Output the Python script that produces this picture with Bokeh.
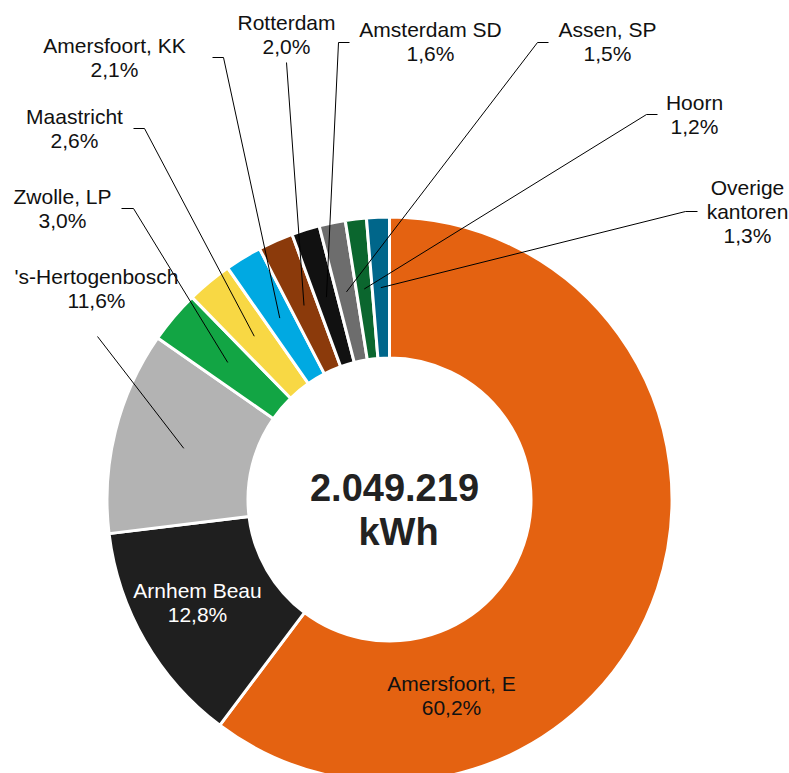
import numpy as np
from bokeh.plotting import figure
from bokeh.models import Range1d, ColumnDataSource
from bokeh.core.properties import value
from bokeh.embed import file_html
from bokeh.resources import INLINE

# ---------------- data ----------------
names = ["Amersfoort, E", "Arnhem Beau", "'s-Hertogenbosch", "Zwolle, LP", "Maastricht",
         "Amersfoort, KK", "Rotterdam", "Amsterdam SD", "Assen, SP", "Hoorn", "Overige\nkantoren"]
shares = [60.2, 12.8, 11.6, 3.0, 2.6, 2.1, 2.0, 1.6, 1.5, 1.2, 1.3]
total_text = ["2.049.219", "kWh"]

# ---------------- styles / layout ----------------
colors = ["#E46211", "#1F1F1F", "#B3B3B3", "#12A544", "#F8D844", "#00A9E2",
          "#8B3A0B", "#111111", "#6D6D6D", "#0B662E", "#00668A"]
text_colors = ["#111111", "#FFFFFF"] + ["#111111"] * 9
FONT = "Liberation Sans"
CX, CY = 389, 499          # donut centre (picture px)
R_OUT, R_IN = 282.5, 141.5
R_MID = 212
TEXT_DY = -8               # rendering offset correction for text baselines
# label anchor: centre x, first baseline y (picture px)
label_xy = [(451, 691), (197, 598), (96, 284), (62, 204), (74, 124), (114, 53),
            (286, 30), (430, 37), (607, 37), (694, 110), (747, 195)]
# leader line points before the end on the slice (picture px); None = no leader
leader_pre = [None, None,
              [(97, 336)],
              [(121, 208), (133, 208)],
              [(133, 128), (144, 128)],
              [(212, 57), (223, 57)],
              [(286, 62)],
              [(349, 42), (338, 42)],
              [(548, 42), (537, 42)],
              [(657, 114), (646, 114)],
              [(697, 211), (685, 211)]]
LINE_H = 24

# ---------------- figure ----------------
W, H = 789, 773
p = figure(width=W, height=H, x_range=Range1d(0, W), y_range=Range1d(-H, 0),
           output_backend="svg", toolbar_location=None,
           x_axis_location=None, y_axis_location=None, min_border=0)
p.grid.grid_line_color = None
p.outline_line_color = None
p.background_fill_color = "white"
p.border_fill_color = "white"

vals = np.array(shares, dtype=float)
frac = vals / vals.sum()
cum = np.concatenate([[0], np.cumsum(frac)])
start = np.pi / 2 - 2 * np.pi * cum[:-1]
end = np.pi / 2 - 2 * np.pi * cum[1:]
mid = (start + end) / 2

src = ColumnDataSource(dict(start=start, end=end, color=colors))
p.annular_wedge(x=CX, y=-CY, inner_radius=R_IN, outer_radius=R_OUT,
                start_angle="start", end_angle="end", direction="clock",
                fill_color="color", line_color="white", line_width=3, source=src)

# leader lines
for i, pre in enumerate(leader_pre):
    if pre is None:
        continue
    ex = CX + R_MID * np.cos(mid[i])
    ey = -CY + R_MID * np.sin(mid[i])
    xs = [pt[0] for pt in pre] + [ex]
    ys = [-pt[1] for pt in pre] + [ey]
    p.line(xs, ys, line_color="black", line_width=1)

# labels
for i, (nm, v) in enumerate(zip(names, shares)):
    pct = f"{v:.1f}".replace(".", ",") + "%"
    lines = nm.split("\n") + [pct]
    lx, ly = label_xy[i]
    xs = [lx] * len(lines)
    ys = [-(ly + TEXT_DY + k * LINE_H) for k in range(len(lines))]
    p.text(x=xs, y=ys, text=lines, text_align="center", text_baseline="alphabetic",
           text_font=value(FONT), text_font_size="21px", text_color=text_colors[i])

# centre total
p.text(x=[394, 398], y=[-(495 + TEXT_DY), -(539 + TEXT_DY)], text=total_text,
       text_align="center", text_baseline="alphabetic", text_font=value(FONT),
       text_font_size="38px", text_font_style="bold", text_color="#222222")

open("out.html", "w").write(file_html(p, INLINE))
